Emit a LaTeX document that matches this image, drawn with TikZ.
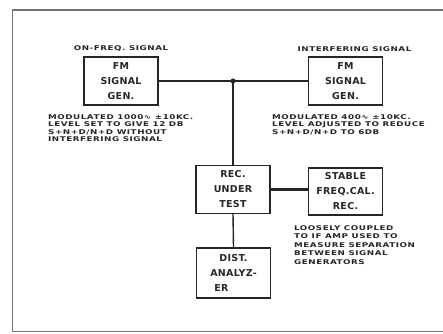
\documentclass[tikz,border=0pt]{standalone}
\usepackage{fontspec}
\setmainfont{DejaVu Sans}
\newfontfamily\boxfont[LetterSpace=3]{DejaVu Sans}
\newfontfamily\notefont[FakeStretch=1.35, LetterSpace=8]{DejaVu Sans}
\usetikzlibrary{positioning}
\tikzset{
    schematic/.style={x=1pt, y=-1pt, black!85},
    unit box/.style={draw, line width=1.2pt, align=center, inner sep=0pt,
        minimum width=74pt, minimum height=48pt,
        font=\boxfont\bfseries\fontsize{9.5}{15}\selectfont},
    unit link/.style={line width=1.4pt},
    note/.style={align=left, anchor=north west, inner sep=0pt,
        font=\notefont\bfseries\fontsize{6.5}{7.4}\selectfont},
    caption note/.style={inner sep=0pt, font=\notefont\bfseries\fontsize{6.5}{7.4}\selectfont},
}

\begin{document}
\begin{tikzpicture}[
        schematic,
        frame/.style={draw=black!55},
        tap dot/.style={fill=black!85}
    ]
        \useasboundingbox (0,0) rectangle (443,333);
        % page frame
        \draw[frame, line width=2.4pt] (12,10) -- (443,10);
        \draw[frame, line width=0.9pt] (12,10) -- (12,331) -- (443,331);

        \node[unit box] (onfreq) at (121,81) {FM\\SIGNAL\\GEN.};
        \node[unit box] (interf) at (345.5,81) {FM\\SIGNAL\\GEN.};
        \node[unit box] (rec) at (233,189.5) {REC.\\UNDER\\TEST};
        \node[unit box, minimum height=47pt] (stable) at (345.5,191.5)
            {STABLE\\FREQ.CAL.\\REC.};
        \node[unit box, minimum height=50pt] (dist) at (233.5,273)
            {DIST.\\ANALYZ-\\ER\hspace*{24pt}};

        \node[caption note, above=4.5pt of onfreq] (onfreqlbl) {ON-FREQ. SIGNAL};
        \node[caption note, above=4.5pt of interf, xshift=9pt] (interflbl)
            {INTERFERING SIGNAL};

        \node[note] (onfreqnote) at (48,114.5) {MODULATED 1000∿ ±10KC.\\
            LEVEL SET TO GIVE 12 DB\\S+N+D/N+D WITHOUT\\INTERFERING SIGNAL};
        \node[note] (interfnote) at (272,114.5) {MODULATED 400∿ ±10KC.\\
            LEVEL ADJUSTED TO REDUCE\\S+N+D/N+D TO 6DB};
        \node[note, font=\notefont\bfseries\fontsize{6.5}{8.6}\selectfont] (stablenote)
            at (294,225) {LOOSELY COUPLED\\TO IF AMP USED TO\\
            MEASURE SEPARATION\\BETWEEN SIGNAL\\GENERATORS};

        \coordinate (tap) at (rec.north |- onfreq.east);
        \draw[unit link] (onfreq.east) -- (interf.west);
        \draw[unit link] (tap) -- (rec.north);
        \fill[tap dot] (tap) circle (2.6pt);
        \draw[unit link, line width=2.6pt] (rec.east) -- (rec.east -| stable.west);
        \draw[unit link] (rec.south) -- (dist.north);
    \end{tikzpicture}
\end{document}
